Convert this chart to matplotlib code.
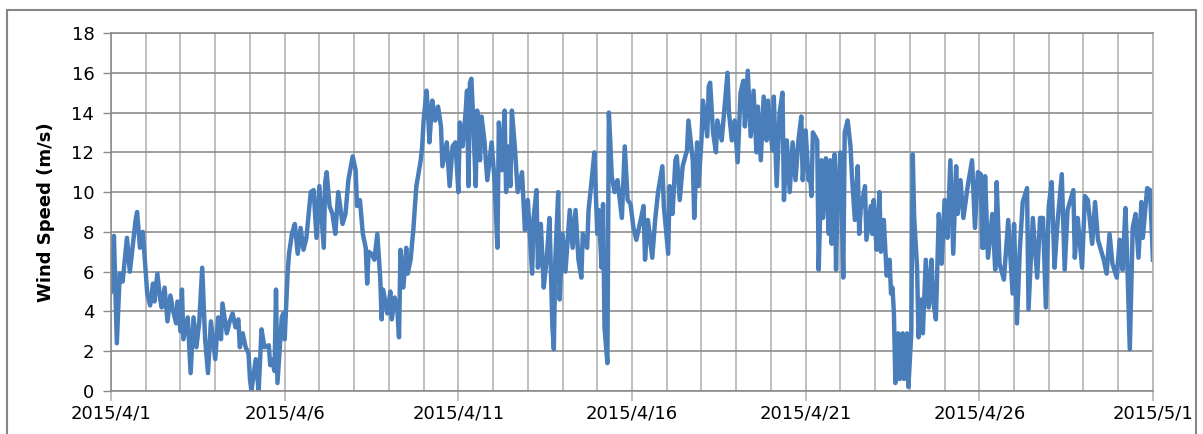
import numpy as np
import matplotlib
matplotlib.use('Agg')
from matplotlib import pyplot as plt
import matplotlib.dates as mdates
from matplotlib.patches import Rectangle

# hours since 2015/4/1 00:00 and measured wind speed (m/s)
hours = [
    0, 1, 2, 4, 6, 8, 11, 13, 17, 18, 20, 22, 25,
    27, 29, 30, 32, 34, 35, 37, 39, 41, 43, 45, 46, 48,
    49, 50, 53, 55, 57, 59, 61, 63, 65, 67, 69, 72,
    74, 76, 77, 80, 82, 84, 86, 88, 89, 91, 93, 95,
    96, 97, 100, 102, 104, 106, 109, 110, 111, 113, 114, 115, 118,
    119, 120, 122, 123, 125, 127, 129, 131, 133, 135, 138, 140, 142, 144,
    147, 148, 149, 151, 153, 155, 157, 160, 162, 164, 167,
    169, 170, 172, 174, 176, 177, 178, 180, 182, 184, 186, 187, 188, 191,
    193, 194, 196, 198, 199, 200, 202, 204, 205, 207, 209, 210, 211, 214, 215,
    216, 218, 219, 220, 222, 224, 226, 228, 229, 232, 234, 236, 238,
    240, 241, 243, 245, 246, 247, 248, 249, 250, 252, 253, 255, 256, 258, 260,
    263, 265, 267, 268, 270, 272, 273, 274, 276, 277, 279, 281, 284, 286,
    288, 291, 292, 294, 295, 297, 299, 301, 303, 305, 306, 307, 309, 310,
    312, 314, 317, 319, 321, 323, 325, 326, 329, 330, 332, 334,
    336, 337, 339, 340, 341, 343, 344, 345, 346, 348, 350, 353, 355, 357,
    359, 361, 363, 366, 368, 369, 371, 374, 376, 378, 381, 382,
    384, 385, 386, 388, 390, 391, 393, 395, 398, 399, 402, 403, 405, 406,
    408, 409, 412, 413, 414, 416, 418, 419, 422, 424, 426, 427, 429,
    431, 433, 435, 437, 438, 440, 442, 444, 446, 447, 449, 451, 453, 454,
    457, 458, 460, 462, 464, 465, 467, 469, 471, 473, 475, 477, 478,
    480, 482, 483, 484, 485, 488, 489, 491, 492, 494, 496, 497, 498, 500, 501, 502,
    504, 506, 507, 509, 511, 512, 514, 516, 517, 518, 521, 522, 525, 526, 527,
    529, 530, 531, 532, 533, 534, 535, 536, 537, 538, 539, 540, 541,
    542, 544, 545, 547, 548, 550, 551,
    553, 554, 555, 557, 558, 560, 561, 563, 565, 567, 568, 570, 572, 574,
    576, 578, 580, 582, 584, 585, 587, 589, 592, 595, 597, 599,
    601, 602, 603, 604, 606, 609, 611, 612, 614, 617, 620, 623, 624,
    626, 628, 630, 633, 634, 637, 640, 642, 644, 646, 648,
    650, 652, 654, 657, 659, 661, 665, 666, 668, 671,
    673, 675, 678, 680, 682, 686, 688, 690, 692, 695,
    697, 699, 701, 702, 704, 706, 708, 710, 712, 713, 716, 718, 720,
]
speed = [
    5.0, 5.4, 7.8, 2.4, 5.9, 5.5, 7.7, 6.0, 8.6, 9.0, 7.2, 8.0, 4.9,
    4.3, 5.4, 4.5, 5.9, 4.6, 4.2, 5.2, 3.5, 4.8, 4.0, 3.4, 4.5, 3.0,
    5.1, 2.6, 3.7, 0.9, 3.7, 2.2, 3.5, 6.2, 2.6, 0.9, 3.5, 1.6,
    3.7, 2.6, 4.4, 2.9, 3.5, 3.9, 3.2, 3.6, 2.2, 2.9, 2.2, 1.9,
    0.6, 0.0, 1.6, 0.0, 3.1, 2.2, 2.3, 1.3, 1.6, 1.0, 5.1, 0.4, 3.7,
    3.9, 2.6, 5.9, 6.9, 7.9, 8.4, 6.9, 8.2, 7.1, 7.7, 10.0, 10.1, 7.7, 10.3,
    7.2, 10.5, 11.0, 9.3, 8.9, 7.9, 10.0, 8.4, 8.9, 10.6, 11.8,
    11.1, 9.3, 9.6, 7.9, 7.2, 5.4, 7.0, 6.9, 6.6, 7.9, 5.7, 3.6, 5.1, 3.9,
    5.0, 3.6, 4.7, 3.9, 2.7, 7.1, 5.2, 7.2, 5.9, 6.6, 8.2, 9.3, 10.3, 11.6, 12.3,
    13.6, 15.1, 14.1, 12.5, 14.6, 13.6, 14.3, 13.3, 11.3, 12.5, 10.3, 12.3, 12.5,
    10.0, 13.5, 12.3, 14.0, 15.1, 10.3, 15.5, 15.7, 14.1, 10.3, 14.1, 11.6, 13.8, 12.6, 10.6,
    12.5, 10.6, 7.2, 13.5, 11.1, 14.1, 10.0, 12.3, 10.3, 14.1, 12.3, 10.0, 11.0, 8.1,
    9.6, 5.9, 8.7, 10.1, 6.2, 8.4, 5.2, 6.6, 8.7, 3.2, 2.1, 6.6, 10.0, 4.6,
    7.9, 6.0, 9.1, 7.2, 9.1, 6.6, 5.7, 7.9, 7.2, 9.1, 10.5, 12.0,
    7.9, 9.1, 6.2, 9.4, 3.2, 1.4, 14.0, 12.5, 10.8, 10.0, 10.6, 8.7, 12.3, 9.6,
    9.4, 8.2, 7.6, 8.6, 9.3, 6.6, 8.6, 6.7, 8.6, 10.0, 11.3, 9.3,
    7.7, 6.9, 10.3, 8.9, 11.6, 11.8, 9.6, 11.3, 12.1, 13.6, 11.6, 8.7, 12.5, 10.3,
    12.6, 14.6, 12.8, 15.3, 15.5, 13.0, 12.0, 13.6, 12.6, 14.3, 16.0, 14.0, 12.6,
    13.6, 11.5, 15.0, 15.6, 13.3, 16.1, 12.8, 15.1, 12.0, 14.3, 11.6, 14.8, 12.6, 14.6,
    12.1, 14.8, 10.3, 14.0, 15.0, 9.6, 12.6, 10.0, 12.5, 10.6, 12.6, 13.8, 10.6,
    13.1, 10.6, 11.0, 9.8, 13.0, 12.6, 6.1, 11.6, 8.7, 11.7, 7.9, 11.6, 7.4, 11.9, 6.1, 9.6,
    12.0, 5.7, 13.0, 13.6, 12.3, 10.8, 8.6, 11.3, 7.9, 9.1, 10.3, 7.6, 9.3, 7.9, 9.6,
    7.1, 8.4, 10.0, 7.0, 7.9, 8.6, 7.2, 5.8, 6.2, 6.6, 4.9, 5.2, 3.9,
    0.4, 2.9, 0.6, 2.9, 0.6, 2.9, 0.2,
    2.9, 11.9, 8.7, 6.2, 2.7, 4.6, 2.9, 6.6, 4.2, 6.6, 4.6, 3.6, 8.9, 6.4,
    9.6, 7.7, 11.6, 6.9, 11.3, 8.9, 10.6, 8.7, 10.3, 11.6, 8.2, 11.0,
    10.9, 7.2, 7.2, 10.8, 6.7, 8.9, 6.1, 10.5, 6.4, 5.6, 8.6, 4.9, 8.4,
    3.4, 7.1, 9.5, 10.2, 4.1, 8.7, 5.7, 8.7, 8.7, 4.2, 9.3,
    10.5, 6.2, 8.4, 10.9, 6.1, 9.1, 10.1, 6.7, 8.7, 6.2,
    9.8, 9.6, 7.4, 9.5, 7.6, 6.6, 5.9, 7.9, 6.4, 5.7,
    7.6, 6.1, 9.2, 7.1, 2.1, 8.2, 8.9, 6.7, 9.5, 7.7, 10.2, 10.1, 6.6,
]

start = np.datetime64('2015-04-01T00:00')
end = np.datetime64('2015-05-01T00:00')
times = start + np.array(hours).astype('timedelta64[h]')

plt.rcParams['font.family'] = ['DejaVu Sans']
fig = plt.figure(figsize=(12.03, 4.34), dpi=100)
ax = fig.add_axes([0.0923, 0.0991, 0.8661, 0.8249])

ax.plot(times, speed, color='#4a7ebb', lw=3.2, solid_joinstyle='round')

ax.set_xlim(start, end)
ax.set_ylim(0, 18)
ax.set_yticks(np.arange(0, 19, 2))

ax.xaxis.set_major_locator(mdates.DayLocator(bymonthday=[1, 6, 11, 16, 21, 26]))
ax.xaxis.set_minor_locator(mdates.DayLocator())
ax.xaxis.set_major_formatter(
    plt.FuncFormatter(lambda v, pos: (lambda d: f'{d.year}/{d.month}/{d.day}')(mdates.num2date(v))))

ax.grid(True, axis='y', color='#8c8c8c', lw=1.2)
ax.grid(True, axis='x', which='both', color='#b4b4b4', lw=1.2)
ax.set_axisbelow(True)

ax.tick_params(axis='y', length=6, width=1, color='#8c8c8c', labelsize=13, pad=6)
ax.tick_params(axis='x', which='major', length=7, width=1.2, color='#b4b4b4', labelsize=13, pad=3)
ax.tick_params(axis='x', which='minor', length=0)
for s in ax.spines.values():
    s.set_color('#8c8c8c')
    s.set_linewidth(1.2)
ax.spines['right'].set_color('#b4b4b4')

ax.set_ylabel('Wind Speed (m/s)', fontsize=13, fontweight='bold', labelpad=12)

# outer chart frame
fig.patches.append(Rectangle((7 / 1203, -0.05), 1189 / 1203, 1.05 - 10 / 434,
                             transform=fig.transFigure, fill=False,
                             edgecolor='#868686', lw=1.5))

fig.savefig('out.png', dpi=100)
